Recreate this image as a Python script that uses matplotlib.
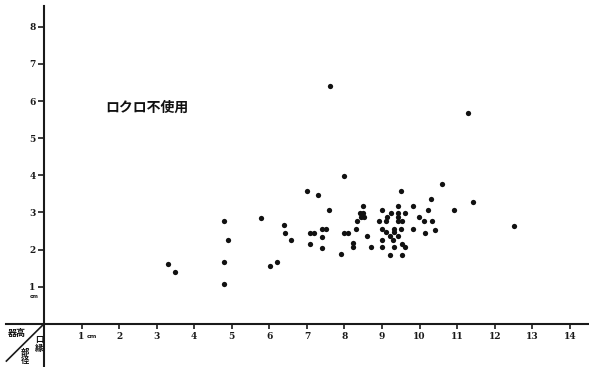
import matplotlib
matplotlib.use("Agg")
import matplotlib.pyplot as plt

# Data: rim diameter (cm) vs vessel height (cm)
rim_diameter = [3.29, 3.50, 4.79, 4.90, 4.80, 4.80, 5.79, 6.01, 6.21, 6.40,
                6.41, 6.59, 7.01, 7.30, 7.09, 7.20, 7.09, 7.40, 7.51, 7.40,
                7.41, 7.60, 7.61, 8.00, 7.90, 8.00, 8.10, 8.22, 8.22, 8.33,
                8.31, 8.41, 8.50, 8.45, 8.53, 8.50, 8.61, 8.71, 8.91, 9.01,
                9.01, 9.10, 9.01, 9.01, 9.12, 9.11, 9.23, 9.21, 9.21, 9.30,
                9.32, 9.32, 9.32, 9.42, 9.43, 9.42, 9.43, 9.52, 9.50, 9.50,
                9.43, 9.52, 9.61, 9.52, 9.61, 9.82, 9.83, 9.99, 10.11, 10.22,
                10.31, 10.32, 10.14, 10.42, 10.60, 10.91, 11.42, 11.30, 12.51]
vessel_height = [1.60, 1.39, 2.77, 2.26, 1.68, 1.08, 2.86, 1.56, 1.67, 2.67,
                 2.46, 2.25, 3.58, 3.48, 2.46, 2.46, 2.16, 2.55, 2.55, 2.35,
                 2.05, 3.07, 6.41, 3.99, 1.87, 2.46, 2.46, 2.17, 2.06, 2.77,
                 2.56, 2.98, 2.98, 2.88, 2.88, 3.17, 2.36, 2.06, 2.77, 3.08,
                 2.56, 2.47, 2.26, 2.06, 2.87, 2.77, 2.98, 2.36, 1.85, 2.26,
                 2.06, 2.56, 2.47, 3.17, 2.98, 2.87, 2.77, 2.77, 3.58, 2.56,
                 2.36, 2.15, 2.06, 1.85, 2.98, 3.17, 2.56, 2.87, 2.77, 3.06,
                 3.36, 2.76, 2.46, 2.54, 3.76, 3.06, 3.27, 5.69, 2.64]
x_ticks = list(range(1, 15))
y_ticks = list(range(1, 9))
annotation = "ロクロ不使用"
y_label = "器高"
x_label_chars = ["口", "縁", "部", "径"]

plt.rcParams['font.family'] = ['Noto Sans CJK JP', 'DejaVu Sans']

fig = plt.figure(figsize=(5.89, 3.67), dpi=100)
ax = fig.add_axes([0, 0, 1, 1])
ax.set_xlim(-1.17, 14.51)
ax.set_ylim(-1.16, 8.72)

ax.plot(rim_diameter, vessel_height, 'o', color='#111111', ms=3.8, mew=0)

for s in ['top', 'right']:
    ax.spines[s].set_visible(False)
ax.spines['left'].set_position(('data', 0))
ax.spines['bottom'].set_position(('data', 0))
ax.spines['left'].set_bounds(-1.16, 8.55)
ax.spines['bottom'].set_bounds(-1.0, 14.51)
for s in ['left', 'bottom']:
    ax.spines[s].set_linewidth(1.5)
    ax.spines[s].set_color('#1a1a1a')

ax.set_xticks(x_ticks)
ax.set_yticks(y_ticks)
ax.set_xticklabels([str(t) for t in x_ticks], family='DejaVu Serif',
                   fontweight='bold', fontsize=6.5)
ax.set_yticklabels([str(t) for t in y_ticks], family='DejaVu Serif',
                   fontweight='bold', fontsize=6.5)
ax.tick_params(axis='x', direction='out', length=3.5, width=1.2, pad=2,
               colors='#1a1a1a')
ax.tick_params(axis='y', direction='out', length=4, width=1.2, pad=2,
               colors='#1a1a1a')

# unit labels
ax.text(1.15, -0.33, "cm", family='DejaVu Sans', fontsize=4.5,
        fontweight='bold', ha='left', va='center', color='#222222')
ax.text(-0.25, 0.75, "cm", family='DejaVu Sans', fontsize=4,
        fontweight='bold', ha='center', va='center', color='#222222')

ax.text(1.63, 5.81, annotation, fontsize=10, fontweight='bold',
        ha='left', va='center', color='#111111')

# corner labels with diagonal
ax.plot([0, -1.0], [0, -1.0], color='#1a1a1a', lw=1.2, clip_on=False)
ax.text(-0.72, -0.25, y_label, fontsize=6.5, fontweight='bold',
        ha='center', va='center', color='#111111')
char_x = [-0.12, -0.12, -0.5, -0.5]
char_y = [-0.43, -0.65, -0.78, -0.99]
for ch, cx, cy in zip(x_label_chars, char_x, char_y):
    ax.text(cx, cy, ch, fontsize=6, fontweight='bold',
            ha='center', va='center', color='#111111')

fig.savefig("out.png", dpi=100, facecolor='white')
